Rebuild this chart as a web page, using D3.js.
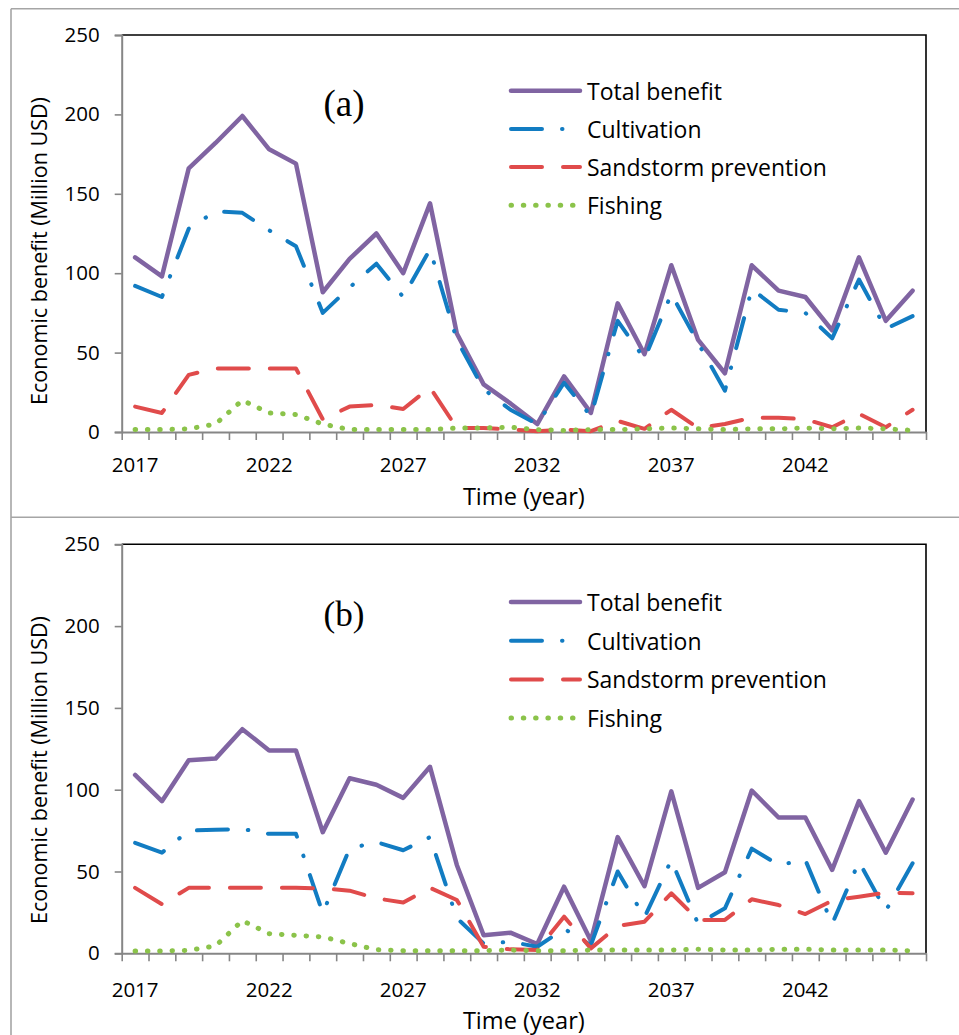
<!DOCTYPE html>
<html>
<head>
<meta charset="utf-8">
<script src="https://cdn.jsdelivr.net/npm/d3@7"></script>
<style>
  html, body { margin: 0; padding: 0; background: #fff; }
  svg { display: block; font-family: "Open Sans", sans-serif; }
</style>
</head>
<body>
<div id="chart"></div>
<script>
// categories
const years = [2017, 2018, 2019, 2020, 2021, 2022, 2023, 2024, 2025, 2026,
               2027, 2028, 2029, 2030, 2031, 2032, 2033, 2034, 2035, 2036,
               2037, 2038, 2039, 2040, 2041, 2042, 2043, 2044, 2045, 2046];
const yearLabels = [2017, 2022, 2027, 2032, 2037, 2042];
const yTicks = [0, 50, 100, 150, 200, 250];
const seriesNames = ["Total benefit", "Cultivation", "Sandstorm prevention", "Fishing"];

// panel (a)
const totalA = [110, 98, 166, 182, 199, 178, 169, 88, 109, 125, 100, 144, 62, 30, 18, 5, 35, 12, 81, 49, 105, 58, 37, 105, 89, 85, 64, 110, 70, 89];
const cultA  = [92, 85, 128, 139, 138, 127, 117, 75, 91, 106, 85, 115, 58, 27, 14, 5, 31, 10, 70, 46, 87, 56, 26, 90, 77, 75, 59, 96, 65, 73];
const sandA  = [16, 12, 36, 40, 40, 40, 40, 8, 16, 17, 14.5, 28, 2.5, 2.5, 1.5, 0.5, 1.5, 0.5, 7, 2, 14, 2.5, 5, 9, 9, 8, 3, 11.5, 3, 14];
const fishA  = [1.5, 1.5, 2, 5, 20, 12, 11, 5, 1.5, 1.5, 1.5, 1.5, 2.5, 2.5, 3, 1.5, 1, 1.5, 1.5, 2, 2.5, 2, 1.5, 2, 2, 2.5, 2, 2.5, 2, 1];

// panel (b)
const totalB = [109, 93, 118, 119, 137, 124, 124, 74, 107, 103, 95, 114, 54, 11, 12.6, 5.7, 40.7, 7.7, 71, 41, 99, 40, 49.5, 99.5, 83, 83, 51, 93, 61.5, 94];
const cultB  = [67.5, 61.5, 75, 75.5, 76, 73, 73, 24.5, 64, 68, 63, 71, 21.5, 6, 7, 4, 15, 5, 50, 22, 57, 18, 27.5, 64, 54, 57, 18, 56, 26, 55];
const sandB  = [40, 30, 40, 40, 40, 40, 40, 39.7, 38.3, 33.6, 31, 40, 32.6, 4, 2.4, 2, 22.4, 3, 16.7, 19.3, 36.7, 20.4, 20.4, 33, 29.5, 24, 32.2, 34.6, 37, 36.7];
const fishB  = [1.4, 1.4, 1.8, 4.5, 20, 12, 11, 10, 6, 2.2, 1.6, 1.6, 1.6, 1.6, 2, 1.5, 1.5, 2, 2, 2, 2, 2.5, 2, 2, 2.5, 2.5, 2, 2, 2, 1.5];

const W = 959, H = 1035;
const styles = [
  { color: "#8064a2", width: 4.5, dash: null, cap: "round" },
  { color: "#127cc2", width: 4, dash: "31,20,0.5,20", cap: "round" },
  { color: "#e04b4b", width: 4, dash: "31,21", cap: "round" },
  { color: "#8bc34a", width: 5, dash: "0.5,11.8", cap: "round" }
];

const svg = d3.select("#chart").append("svg")
  .attr("width", W).attr("height", H);

// outer frame
const frame = svg.append("g").attr("stroke", "#a5a5a5").attr("stroke-width", 1.6);
frame.append("line").attr("x1", 11).attr("x2", W).attr("y1", 8.7).attr("y2", 8.7);
frame.append("line").attr("x1", 11).attr("x2", 11).attr("y1", 8.7).attr("y2", H);
frame.append("line").attr("x1", 11).attr("x2", W).attr("y1", 517.3).attr("y2", 517.3);

function fitWidth(sel, target) {
  const L = sel.node().getComputedTextLength();
  const fs = parseFloat(sel.attr("font-size"));
  sel.attr("font-size", fs * target / L);
}

const panels = [
  { label: "(a)", series: [totalA, cultA, sandA, fishA], top: 35, bottom: 432,
    labelY: 103, legendY: 90.7, legendStep: 38.2, tickPad: 25, titleY: 505, yTitleY: 251 },
  { label: "(b)", series: [totalB, cultB, sandB, fishB], top: 544.3, bottom: 953.3,
    labelY: 614, legendY: 602, legendStep: 38.7, tickPad: 29, titleY: 1029, yTitleY: 770 }
];

const left = 121.7, right = 926;

panels.forEach(p => {
  const g = svg.append("g");
  const x = d3.scaleBand().domain(years).range([left, right]).padding(0);
  const xl = d3.scaleLinear().domain([0, years.length]).range([left, right]);
  const y = d3.scaleLinear().domain([0, 250]).range([p.bottom, p.top]);
  const cx = d => x(d) + x.bandwidth() / 2;

  // plot border (top and right)
  g.append("path")
    .attr("d", `M${left},${p.top}H${right}V${p.bottom}`)
    .attr("fill", "none").attr("stroke", "#000").attr("stroke-width", 1.6);

  // y axis
  const yAxis = g.append("g").attr("transform", `translate(${left},0)`)
    .call(d3.axisLeft(y).tickValues(yTicks).tickSize(7).tickPadding(15));
  yAxis.select(".domain").attr("stroke", "#868686").attr("stroke-width", 2);
  yAxis.selectAll(".tick line").attr("stroke", "#868686").attr("stroke-width", 1.6);
  yAxis.selectAll("text").attr("font-size", 20.5).attr("fill", "#000")
    .attr("font-family", "Open Sans, sans-serif");

  // x tick marks at category boundaries
  const xTickAxis = g.append("g").attr("transform", `translate(0,${p.bottom})`)
    .call(d3.axisBottom(xl).tickValues(d3.range(0, years.length + 1)).tickFormat("").tickSizeInner(8).tickSizeOuter(0));
  xTickAxis.select(".domain").attr("stroke", "#868686").attr("stroke-width", 2);
  xTickAxis.selectAll(".tick line").attr("stroke", "#868686").attr("stroke-width", 1.6);

  // x labels
  const xLab = g.append("g").attr("transform", `translate(0,${p.bottom})`)
    .call(d3.axisBottom(x).tickValues(yearLabels).tickSize(0).tickPadding(p.tickPad));
  xLab.select(".domain").remove();
  xLab.selectAll("text").attr("font-size", 20.5).attr("fill", "#000")
    .attr("font-family", "Open Sans, sans-serif");

  // axis titles
  const xt = g.append("text").attr("x", (left + right) / 2).attr("y", p.titleY)
    .attr("text-anchor", "middle").attr("font-size", 22).text("Time (year)");
  fitWidth(xt, 122);
  const yt = g.append("text")
    .attr("transform", `translate(47,${p.yTitleY}) rotate(-90)`)
    .attr("text-anchor", "middle").attr("font-size", 22)
    .text("Economic benefit (Million USD)");
  fitWidth(yt, 308);

  // panel label
  const pl = g.append("text").attr("x", 344).attr("y", p.labelY)
    .attr("text-anchor", "middle").attr("dominant-baseline", "central")
    .attr("font-family", "Liberation Serif, Times New Roman, serif")
    .attr("font-size", 32).text(p.label);
  fitWidth(pl, 41);

  // series lines
  const line = d3.line().x((d, i) => cx(years[i])).y(d => y(d));
  p.series.forEach((vals, k) => {
    const s = styles[k];
    g.append("path").datum(vals)
      .attr("d", line)
      .attr("fill", "none")
      .attr("stroke", s.color)
      .attr("stroke-width", s.width)
      .attr("stroke-linecap", s.cap)
      .attr("stroke-linejoin", "round")
      .attr("stroke-dasharray", s.dash);
  });

  // legend
  const leg = g.append("g");
  const texts = [];
  seriesNames.forEach((name, k) => {
    const s = styles[k];
    const ly = p.legendY + k * p.legendStep;
    leg.append("line").attr("x1", 511).attr("x2", 580).attr("y1", ly).attr("y2", ly)
      .attr("stroke", s.color).attr("stroke-width", s.width)
      .attr("stroke-linecap", s.cap).attr("stroke-dasharray", s.dash);
    texts.push(leg.append("text").attr("x", 587).attr("y", ly)
      .attr("dominant-baseline", "central").attr("font-size", 22).text(name));
  });
  fitWidth(texts[2], 240);
  const fs = texts[2].attr("font-size");
  texts.forEach(t => t.attr("font-size", fs));
});
</script>
</body>
</html>
